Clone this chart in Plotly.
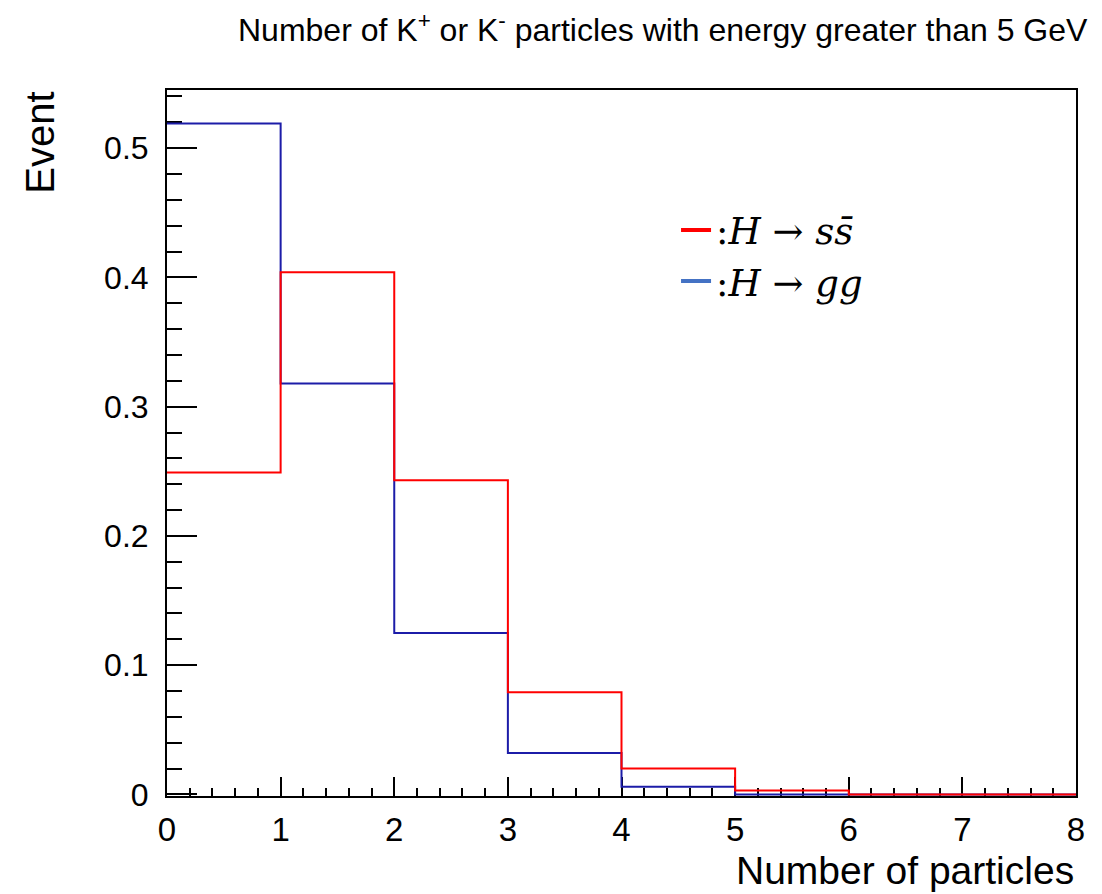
import plotly.graph_objects as go

bin_edges = [0, 1, 2, 3, 4, 5, 6, 7, 8]
h_ss = [0.249, 0.404, 0.243, 0.079, 0.020, 0.003, 0.0, 0.0]
h_gg = [0.519, 0.318, 0.125, 0.032, 0.006, 0.0, 0.0, 0.0]
x_ticks = [0, 1, 2, 3, 4, 5, 6, 7, 8]
y_ticks = [0, 0.1, 0.2, 0.3, 0.4, 0.5]
y_tick_labels = ["0", "0.1", "0.2", "0.3", "0.4", "0.5"]

title_text = "Number of K<sup>+</sup> or K<sup>-</sup> particles with energy greater than 5 GeV"
label_ss = ":<i>H</i> → <i>s</i><i>s̄</i>"
label_gg = ":<i>H</i> → <i>gg</i>"

fig = go.Figure()
fig.add_trace(go.Scatter(x=bin_edges, y=h_gg + [h_gg[-1]], mode="lines",
                         line=dict(shape="hv", color="#1c1ca8", width=2), showlegend=False))
fig.add_trace(go.Scatter(x=bin_edges, y=h_ss + [h_ss[-1]], mode="lines",
                         line=dict(shape="hv", color="#ff0000", width=2), showlegend=False))
# legend entries
fig.add_trace(go.Scatter(x=[None], y=[None], mode="lines", name=label_ss,
                         line=dict(color="#ff0000", width=4)))
fig.add_trace(go.Scatter(x=[None], y=[None], mode="lines", name=label_gg,
                         line=dict(color="#4472c4", width=4)))

axis_font = dict(family="Liberation Sans, Arial, sans-serif", size=32, color="black")

fig.update_layout(
    width=1102, height=894,
    margin=dict(l=167, r=26, t=90, b=98),
    paper_bgcolor="white", plot_bgcolor="white",
    font=axis_font,
    legend=dict(x=0.56, y=0.845, xanchor="left", yanchor="top",
                bgcolor="rgba(0,0,0,0)",
                font=dict(family="DejaVu Serif, Liberation Serif, serif", size=37, color="black"),
                itemwidth=30, tracegroupgap=0),
    xaxis=dict(range=[0, 8], tickvals=x_ticks, ticks="inside", ticklen=19, tickwidth=1.5,
               tickcolor="black", showline=True, linecolor="black", linewidth=2, mirror=True,
               showgrid=False, zeroline=False, tickfont=dict(axis_font, size=33),
               ticklabelstandoff=3, layer="below traces",
               minor=dict(dtick=0.2, ticks="inside", ticklen=8, tickwidth=1.5, tickcolor="black",
                          showgrid=False)),
    yaxis=dict(range=[-0.0012, 0.545], tickvals=y_ticks, ticktext=y_tick_labels, ticks="inside",
               ticklen=30, tickwidth=1.5, tickcolor="black", showline=True, linecolor="black",
               linewidth=2, mirror=True, showgrid=False, zeroline=False, tickfont=axis_font,
               ticklabelstandoff=10, layer="below traces",
               minor=dict(dtick=0.02, ticks="inside", ticklen=15, tickwidth=1.5,
                          tickcolor="black", showgrid=False)),
    annotations=[
        dict(text=title_text, xref="paper", yref="paper", x=1.015, y=1.088,
             xanchor="right", yanchor="middle", showarrow=False,
             font=dict(family="Liberation Sans, Arial, sans-serif", size=32, color="black")),
        dict(text="Event", xref="paper", yref="paper", x=-0.14, y=1.0,
             xanchor="center", yanchor="top", textangle=-90, showarrow=False,
             font=dict(family="Liberation Sans, Arial, sans-serif", size=40, color="black")),
        dict(text="Number of particles", xref="paper", yref="paper", x=1.0, y=-0.106,
             xanchor="right", yanchor="middle", showarrow=False,
             font=dict(family="Liberation Sans, Arial, sans-serif", size=39, color="black")),
    ],
)

fig.write_html("out.html")
